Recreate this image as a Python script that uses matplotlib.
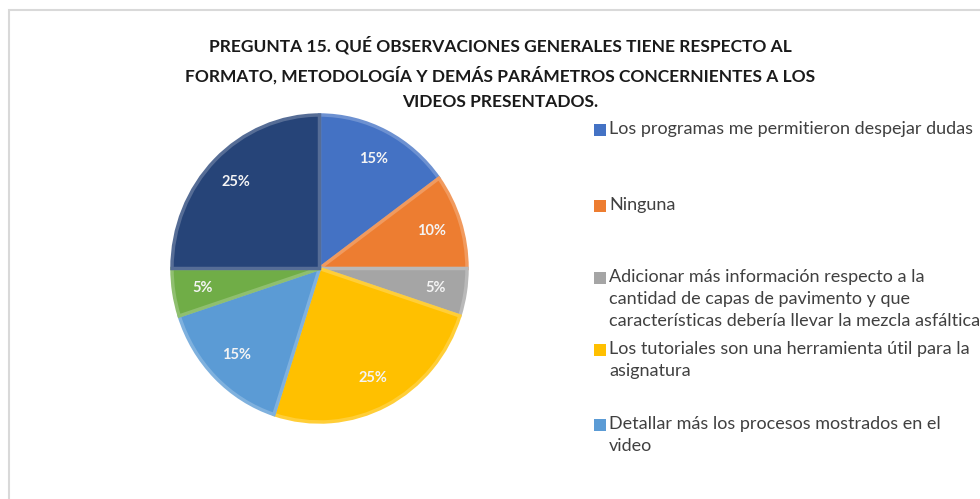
import matplotlib
matplotlib.use("Agg")
import matplotlib.pyplot as plt
from matplotlib.patches import Rectangle
import matplotlib.colors as mcolors
import numpy as np

title = ("PREGUNTA 15. QUÉ OBSERVACIONES GENERALES TIENE RESPECTO AL\n"
         "FORMATO, METODOLOGÍA Y DEMÁS PARÁMETROS CONCERNIENTES A LOS\n"
         "VIDEOS PRESENTADOS.")
values = [15, 10, 5, 25, 15, 5, 25]
colors = ["#4472C4", "#ED7D31", "#A5A5A5", "#FFC000", "#5B9BD5", "#70AD47", "#264478"]
legend_labels = [
    "Los programas me permitieron despejar dudas",
    "Ninguna",
    "Adicionar más información respecto a la\ncantidad de capas de pavimento y que\ncaracterísticas debería llevar la mezcla asfáltica",
    "Los tutoriales son una herramienta útil para la\nasignatura",
    "Detallar más los procesos mostrados en el\nvideo",
]

FONT = ["Lato", "DejaVu Sans"]
W, H = 980, 499
fig = plt.figure(figsize=(W / 100, H / 100), dpi=100)
fig.patch.set_facecolor("white")

# light frame
fig.add_artist(Rectangle((9 / W, -0.1), 1.2, (H - 10) / H + 0.1, transform=fig.transFigure,
                         fill=False, edgecolor="#d9d9d9", linewidth=1.5))

fig.text(500 / W, 1 - 73 / H, title, ha="center", va="center", fontsize=12.5,
         fontweight="bold", family=FONT, color="#1a1a1a", linespacing=1.75)

cx, cy, rx, ry = 319.5, 268.5, 147.5, 153.5
ax = fig.add_axes([(cx - rx) / W, (H - cy - ry) / H, 2 * rx / W, 2 * ry / H])


def lighter(c, f=0.25):
    r, g, b = mcolors.to_rgb(c)
    return (r + (1 - r) * f, g + (1 - g) * f, b + (1 - b) * f)


wedges, texts, autotexts = ax.pie(
    values, colors=colors, startangle=90, counterclock=False,
    autopct=lambda p: f"{p:.0f}%", pctdistance=0.8, radius=1.0,
    wedgeprops=dict(linewidth=2.5),
    textprops=dict(color="#f4f4f4", fontsize=10.5, fontweight="bold", family=FONT))
for w, c in zip(wedges, colors):
    w.set_edgecolor(lighter(c, 0.22))
ax.set_aspect("auto")
ax.set_xlim(-1, 1)
ax.set_ylim(-1, 1)
ax.axis("off")

# legend
ys = [130, 206, 278, 350, 425]
for lab, c, y in zip(legend_labels, colors, ys):
    fig.add_artist(Rectangle((594 / W, 1 - (y + 6) / H), 12 / W, 12 / H,
                             transform=fig.transFigure, facecolor=c, edgecolor="none"))
    fig.text(609 / W, 1 - (y - 9) / H, lab, ha="left", va="top", fontsize=13,
             family=FONT, color="#404040", linespacing=1.45)

fig.savefig("out.png", dpi=100, facecolor="white")
